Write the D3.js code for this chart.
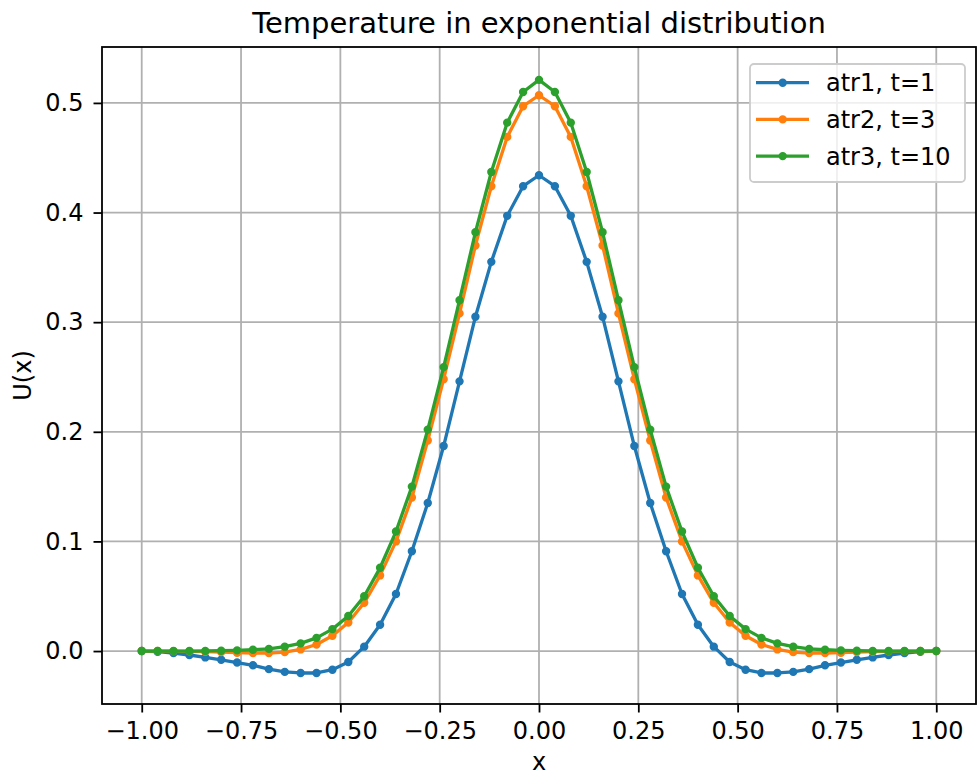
<!DOCTYPE html>
<html>
<head>
<meta charset="utf-8">
<script src="https://cdn.jsdelivr.net/npm/d3@7"></script>
<style>
  html, body { margin: 0; padding: 0; background: #fff; }
  svg { display: block; font-family: "DejaVu Sans", sans-serif; }
</style>
</head>
<body>
<svg id="chart" width="977" height="778"></svg>
<script>
const xValues = [-1.00,-0.96,-0.92,-0.88,-0.84,-0.80,-0.76,-0.72,-0.68,-0.64,-0.60,-0.56,-0.52,-0.48,-0.44,-0.40,-0.36,-0.32,-0.28,-0.24,-0.20,-0.16,-0.12,-0.08,-0.04,0.00,
  0.04,0.08,0.12,0.16,0.20,0.24,0.28,0.32,0.36,0.40,0.44,0.48,0.52,0.56,0.60,0.64,0.68,0.72,0.76,0.80,0.84,0.88,0.92,0.96,1.00];

const atr1 = [0,-0.0006,-0.0018,-0.0036,-0.0058,-0.008,-0.0105,-0.013,-0.0165,-0.019,-0.020,-0.020,-0.017,-0.010,0.004,0.024,0.052,0.091,0.135,0.187,0.246,0.305,0.355,0.397,0.424,0.434,
  0.424,0.397,0.355,0.305,0.246,0.187,0.135,0.091,0.052,0.024,0.004,-0.010,-0.017,-0.020,-0.020,-0.019,-0.0165,-0.013,-0.0105,-0.008,-0.0058,-0.0036,-0.0018,-0.0006,0];

const atr2 = [0,0,-0.0001,-0.0003,-0.0006,-0.001,-0.0015,-0.0018,-0.0018,-0.001,0.0015,0.006,0.014,0.026,0.044,0.069,0.100,0.140,0.192,0.248,0.308,0.370,0.424,0.469,0.497,0.507,
  0.497,0.469,0.424,0.370,0.308,0.248,0.192,0.140,0.100,0.069,0.044,0.026,0.014,0.006,0.0015,-0.001,-0.0018,-0.0018,-0.0015,-0.001,-0.0006,-0.0003,-0.0001,0,0];

const atr3 = [0,0,0,0,0.0001,0.0003,0.0006,0.0012,0.002,0.004,0.007,0.012,0.020,0.032,0.050,0.076,0.109,0.150,0.202,0.259,0.320,0.382,0.437,0.482,0.510,0.521,
  0.510,0.482,0.437,0.382,0.320,0.259,0.202,0.150,0.109,0.076,0.050,0.032,0.020,0.012,0.007,0.004,0.002,0.0012,0.0006,0.0003,0.0001,0,0,0,0];

const seriesNames = ["atr1, t=1", "atr2, t=3", "atr3, t=10"];
const seriesColors = ["#1f77b4", "#ff7f0e", "#2ca02c"];
const xTicks = [-1.00,-0.75,-0.50,-0.25,0.00,0.25,0.50,0.75,1.00];
const yTicks = [0.0,0.1,0.2,0.3,0.4,0.5];
const titleText = "Temperature in exponential distribution";
const xLabel = "x";
const yLabel = "U(x)";

(function () {
const svg = d3.select("#chart");
const pL = 102, pR = 976, pT = 47, pB = 704;

const x = d3.scaleLinear().domain([-1.1, 1.1]).range([pL, pR]);
const y = d3.scaleLinear().domain([-0.0483, 0.5510]).range([pB, pT]);

const fmtMinus = s => s.replace("-", "\u2212");

// grid
const grid = svg.append("g");
grid.selectAll(".gx").data(xTicks).enter().append("line")
  .attr("x1", d => x(d)).attr("x2", d => x(d)).attr("y1", pT).attr("y2", pB)
  .attr("stroke", "#b0b0b0").attr("stroke-width", 1.8);
grid.selectAll(".gy").data(yTicks).enter().append("line")
  .attr("x1", pL).attr("x2", pR).attr("y1", d => y(d)).attr("y2", d => y(d))
  .attr("stroke", "#b0b0b0").attr("stroke-width", 1.8);

// series
const allSeries = [atr1, atr2, atr3];
const line = d3.line().x(d => x(d[0])).y(d => y(d[1]));
allSeries.forEach((vals, i) => {
  const pts = xValues.map((xv, j) => [xv, vals[j]]);
  const g = svg.append("g");
  g.append("path").datum(pts).attr("d", line)
    .attr("fill", "none").attr("stroke", seriesColors[i]).attr("stroke-width", 3.3)
    .attr("stroke-linejoin", "round").attr("stroke-linecap", "square");
  g.selectAll("circle").data(pts).enter().append("circle")
    .attr("cx", d => x(d[0])).attr("cy", d => y(d[1])).attr("r", 3.3)
    .attr("fill", seriesColors[i]).attr("stroke", seriesColors[i]).attr("stroke-width", 1.8);
});

// axes
const xAxis = d3.axisBottom(x).tickValues(xTicks).tickSizeInner(8.5).tickSizeOuter(0).tickPadding(9.5)
  .tickFormat(d => fmtMinus(d3.format(".2f")(d)));
const yAxis = d3.axisLeft(y).tickValues(yTicks).tickSizeInner(8.5).tickSizeOuter(0).tickPadding(10)
  .tickFormat(d => fmtMinus(d3.format(".1f")(d)));

const gx = svg.append("g").attr("transform", `translate(0,${pB})`).call(xAxis);
const gy = svg.append("g").attr("transform", `translate(${pL},0)`).call(yAxis);
[gx, gy].forEach(g => {
  g.select(".domain").remove();
  g.selectAll(".tick line").attr("stroke", "#000").attr("stroke-width", 1.8);
  g.selectAll(".tick text").attr("font-family", "DejaVu Sans").attr("font-size", 24).attr("fill", "#000");
});

// frame
svg.append("rect").attr("x", pL).attr("y", pT).attr("width", pR - pL).attr("height", pB - pT)
  .attr("fill", "none").attr("stroke", "#000").attr("stroke-width", 1.8);

// title & labels
svg.append("text").attr("x", (pL + pR) / 2).attr("y", 33).attr("text-anchor", "middle")
  .attr("font-size", 29).attr("fill", "#000").text(titleText);
svg.append("text").attr("x", (pL + pR) / 2).attr("y", 770).attr("text-anchor", "middle")
  .attr("font-size", 24).attr("fill", "#000").text(xLabel);
svg.append("text").attr("transform", `translate(30.5,${(pT + pB) / 2}) rotate(-90)`).attr("text-anchor", "middle")
  .attr("font-size", 24).attr("fill", "#000").text(yLabel);

// legend
const lg = svg.append("g");
const lx = 750, ly = 64, lw = 215, lh = 118;
lg.append("rect").attr("x", lx).attr("y", ly).attr("width", lw).attr("height", lh).attr("rx", 4)
  .attr("fill", "rgba(255,255,255,0.8)").attr("stroke", "#cccccc").attr("stroke-width", 1.8);
seriesNames.forEach((name, i) => {
  const yy = ly + 18.7 + i * 36.7;
  lg.append("line").attr("x1", lx + 6).attr("x2", lx + 59).attr("y1", yy).attr("y2", yy)
    .attr("stroke", seriesColors[i]).attr("stroke-width", 3.3);
  lg.append("circle").attr("cx", lx + 32.7).attr("cy", yy).attr("r", 3.3)
    .attr("fill", seriesColors[i]).attr("stroke", seriesColors[i]).attr("stroke-width", 1.8);
  lg.append("text").attr("x", lx + 76).attr("y", yy + 8.5).attr("font-size", 24).attr("fill", "#000").text(name);
});
})();
</script>
</body>
</html>
